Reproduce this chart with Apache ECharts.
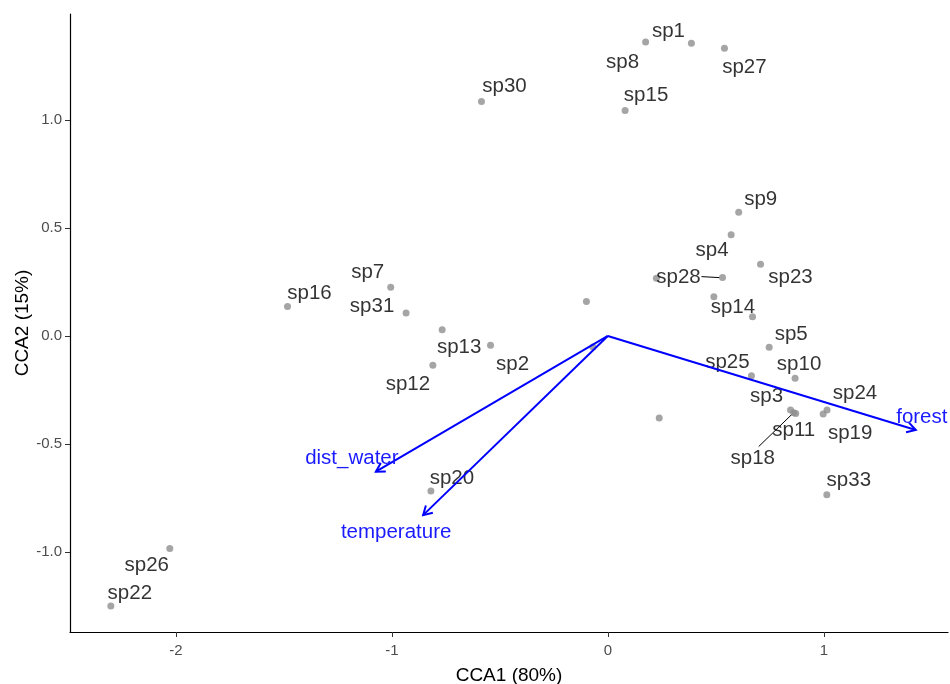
<!DOCTYPE html>
<html>
<head>
<meta charset="utf-8">
<script src="https://cdn.jsdelivr.net/npm/echarts@6/dist/echarts.min.js"></script>
<style>
  html, body { margin: 0; padding: 0; background: #fff; }
  #chart { width: 950px; height: 684px; }
</style>
</head>
<body>
<div id="chart"></div>
<script>
// species scores (CCA1, CCA2)
var species = ['sp1','sp2','sp3','sp4','sp5','sp6','sp7','sp8','sp9','sp10','sp11',
  'sp12','sp13','sp14','sp15','sp16','sp17','sp18','sp19','sp20','sp21','sp22',
  'sp23','sp24','sp25','sp26','sp27','sp28','sp29','sp30','sp31','sp32','sp33']
var cca1 = [0.387,-0.543,0.846,0.571,0.747,-0.099,-1.005,0.175,0.606,0.867,0.861,
  -0.810,-0.767,0.491,0.080,-1.483,0.225,0.870,0.997,-0.819,0.670,-2.301,
  0.707,1.015,0.665,-2.028,0.540,0.531,0.238,-0.585,-0.934,-0.069,1.014]
var cca2 = [1.355,-0.043,-0.343,0.468,-0.052,0.159,0.225,1.360,0.573,-0.196,-0.355,
  -0.136,0.029,0.182,1.043,0.136,0.267,-0.359,-0.361,-0.718,0.089,-1.250,
  0.332,-0.343,-0.184,-0.983,1.332,0.270,-0.380,1.085,0.106,-0.051,-0.735]

// environmental arrows
var envVars = ['forest','dist_water','temperature']
var envX = [1.426,-1.074,-0.855]
var envY = [-0.435,-0.628,-0.829]

var xTicks = [-2,-1,0,1]
var yTicks = [-1,-0.5,0,0.5,1]

// label placement (pixels from the point), like ggrepel put them
var labelOffset = {
  sp1:[-23,-12], sp2:[22,19], sp3:[-24,-14], sp4:[-19,16], sp5:[22,-13],
  sp7:[-23,-15], sp8:[-23,20], sp9:[22,-13], sp10:[4,-14], sp11:[0,18],
  sp12:[-25,19], sp13:[17,18], sp14:[19,11], sp15:[21,-15], sp16:[22,-13],
  sp18:[-43,45], sp19:[27,19], sp20:[21,-13], sp22:[19,-13], sp23:[30,13],
  sp24:[28,-17], sp25:[-24,-13], sp26:[-23,17], sp27:[20,19], sp28:[-44,0],
  sp30:[23,-15], sp31:[-34,-7], sp33:[22,-14]
}
// leader segments [x1,y1,x2,y2] in pixels from the point
var leaders = { sp28:[-21,-1,-3,0], sp18:[-37,33,-3,0] }
var envLabelOffset = [[6,-13],[-24,-13],[-27,17]]

var chart = echarts.init(document.getElementById('chart'))

var pts = species.map(function(s, i){
  var off = labelOffset[s]
  return {
    name: s,
    value: [cca1[i], cca2[i]],
    label: off ? { show: true, offset: off } : { show: false }
  }
})

var segData = []
species.forEach(function(s, i){
  if (leaders[s]) segData.push([cca1[i], cca2[i]].concat(leaders[s]))
})

var arrowData = envVars.map(function(v, i){ return [envX[i], envY[i], i] })

var font = 'Liberation Sans, Arial, sans-serif'

chart.setOption({
  animation: false,
  grid: { left: 70, right: 2, top: 14, bottom: 52, outerBoundsMode: 'none', containLabel: false },
  xAxis: {
    type: 'value', min: -2.49, max: 1.575,
    name: 'CCA1 (80%)', nameLocation: 'middle', nameGap: 34, nameMoveOverlap: false,
    nameTextStyle: { color: '#000', fontSize: 19, fontFamily: font },
    splitLine: { show: false },
    axisLine: { onZero: false, lineStyle: { color: '#000', width: 1.2 } },
    axisTick: { customValues: xTicks, length: 5, lineStyle: { color: '#333' } },
    axisLabel: { customValues: xTicks, color: '#4d4d4d', fontSize: 15, fontFamily: font, margin: 11 }
  },
  yAxis: {
    type: 'value', min: -1.37, max: 1.49,
    name: 'CCA2 (15%)', nameLocation: 'middle', nameGap: 38, nameMoveOverlap: false,
    nameTextStyle: { color: '#000', fontSize: 19, fontFamily: font },
    splitLine: { show: false },
    axisLine: { show: true, onZero: false, lineStyle: { color: '#000', width: 1.2 } },
    axisTick: { show: true, customValues: yTicks, length: 5, lineStyle: { color: '#333' } },
    axisLabel: { customValues: yTicks, color: '#4d4d4d', fontSize: 15, fontFamily: font, margin: 8,
      formatter: function(v){ return v.toFixed(1) } }
  },
  series: [
    {
      type: 'scatter',
      data: pts,
      symbolSize: 7,
      itemStyle: { color: '#8f8f8f' },
      label: { position: 'inside', formatter: '{b}', color: '#000', fontSize: 20.5, fontFamily: font },
      z: 3
    },
    {
      type: 'custom',
      data: segData,
      renderItem: function(params, api){
        var p = api.coord([api.value(0), api.value(1)])
        return { type: 'line',
          shape: { x1: p[0]+api.value(2), y1: p[1]+api.value(3), x2: p[0]+api.value(4), y2: p[1]+api.value(5) },
          style: { stroke: '#000', lineWidth: 1 } }
      },
      z: 2
    },
    {
      type: 'custom',
      data: arrowData,
      renderItem: function(params, api){
        var o = api.coord([0, 0])
        var e = api.coord([api.value(0), api.value(1)])
        var ang = Math.atan2(e[1]-o[1], e[0]-o[0])
        var h = 10, a = Math.PI / 6
        var h1 = [e[0] - h*Math.cos(ang - a), e[1] - h*Math.sin(ang - a)]
        var h2 = [e[0] - h*Math.cos(ang + a), e[1] - h*Math.sin(ang + a)]
        var k = api.value(2)
        var lo = envLabelOffset[k]
        return { type: 'group', children: [
          { type: 'line', shape: { x1: o[0], y1: o[1], x2: e[0], y2: e[1] },
            style: { stroke: '#0000ff', lineWidth: 2 } },
          { type: 'polyline', shape: { points: [h1, e, h2] },
            style: { stroke: '#0000ff', lineWidth: 2, fill: null } },
          { type: 'text', x: e[0] + lo[0], y: e[1] + lo[1],
            style: { text: envVars[k], fill: '#1a1aff', fontSize: 20.5, fontFamily: font,
              align: 'center', verticalAlign: 'middle' } }
        ] }
      },
      z: 4
    }
  ]
})
</script>
</body>
</html>
